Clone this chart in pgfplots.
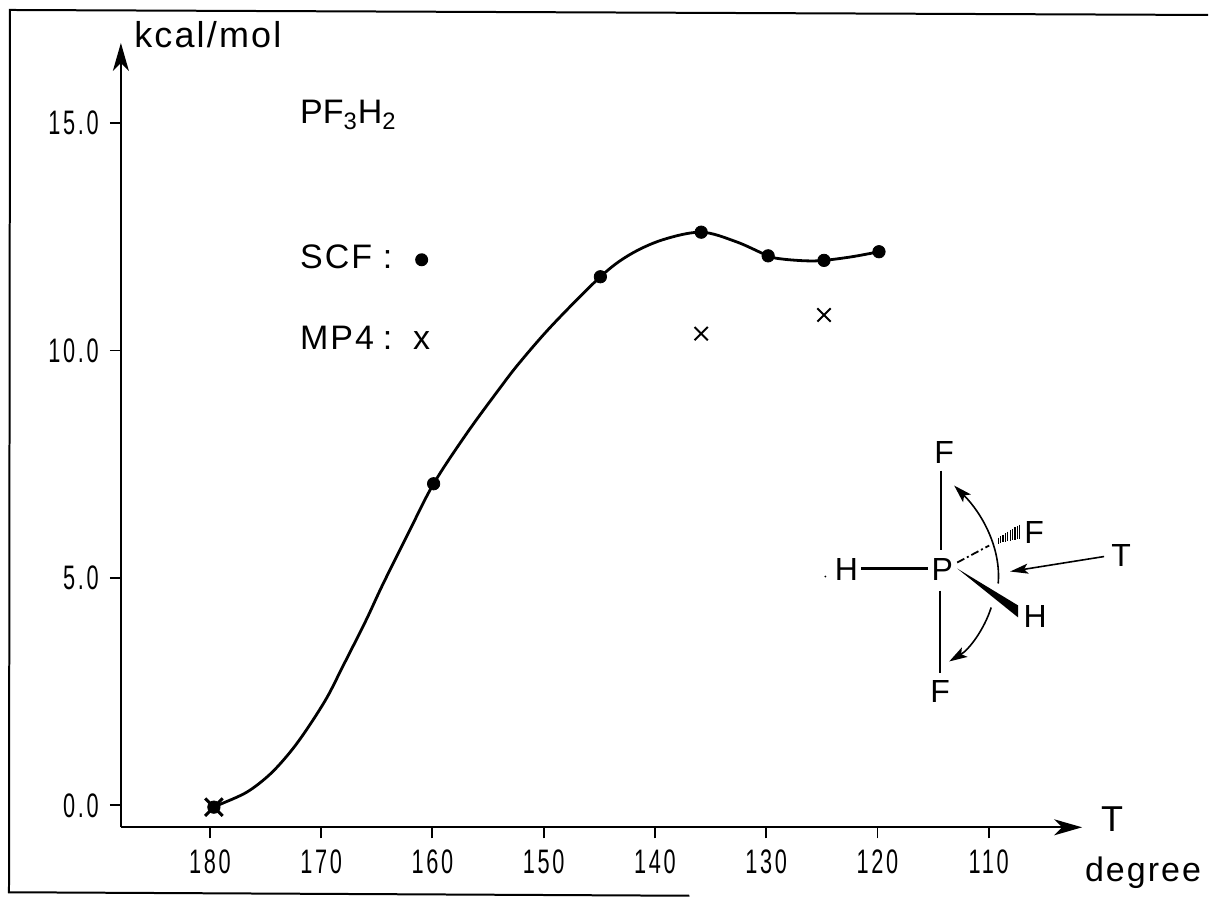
\documentclass[border=0pt]{standalone}
\usepackage{fontspec}
\setmainfont{Liberation Sans}
\newfontfamily\tickfont[FakeStretch=0.64,LetterSpace=8]{Liberation Sans}
\newfontfamily\lblfont[LetterSpace=6]{Liberation Sans}
\usepackage{pgfplots}
\pgfplotsset{compat=1.18}
\usetikzlibrary{arrows.meta}
\pgfplotstableread{
T E
179.64 -0.04
179.1 0.02
176.68 0.29
174.61 0.68
172.82 1.16
171.29 1.67
169.5 2.36
168.06 3.05
166.0 4.05
164.47 4.85
162.05 6.04
159.89 7.07
156.93 8.17
153.97 9.16
152.17 9.73
149.21 10.56
144.9 11.62
142.3 12.10
139.34 12.43
135.84 12.6
132.69 12.39
129.82 12.08
128.56 12.01
126.41 11.97
124.8 11.98
122.28 12.06
119.86 12.17
}\curvetable
\pgfplotstableread{
T E
179.64 -0.04
159.89 7.07
144.9 11.62
135.84 12.6
129.82 12.08
124.8 11.98
119.86 12.17
}\scftable
\pgfplotstableread{
T E
135.84 10.37
124.8 10.78
}\mptable
\pgfplotstableread{
T E
179.64 -0.04
}\mpzero
\begin{document}
\begin{tikzpicture}[x=1pt,y=1pt]
\path (0,0) rectangle (604.5,448.5);
\begin{axis}[
  at={(60.5pt,34.5pt)},
  anchor=south west,
  scale only axis, width=481pt, height=392.5pt,
  x dir=reverse,
  xmin=101.6, xmax=188, ymin=-0.483, ymax=16.76,
  axis lines=left,
  axis line style={line width=1pt},
  x axis line style={{Stealth[length=14pt,width=8pt,inset=4pt]}-},
  y axis line style={-{Stealth[length=14pt,width=8pt,inset=4pt]}},
  clip=false,
  xtick={180,170,160,150,140,130,120,110},
  xticklabels={180,170,160,150,140,130,120,110},
  ytick={0,5,10,15},
  yticklabels={0.0,5.0,10.0,15.0},
  tick style={black,line width=0.9pt},
  tick align=outside,
  major tick length=5.5pt,
  xticklabel style={font=\tickfont\fontsize{17}{17}\selectfont,yshift=-2pt},
  yticklabel style={font=\tickfont\fontsize{17}{17}\selectfont,xshift=-2pt},
]
\addplot[black,line width=1.4pt,smooth,tension=0.55,no marks] table[x=T,y=E] {\curvetable};
\addplot[only marks,mark=*,mark size=3.1pt,black] table[x=T,y=E] {\scftable};
\addplot[only marks,mark=x,mark size=4.7pt,black,mark options={line width=1pt}] table[x=T,y=E] {\mptable};
\addplot[only marks,mark=x,mark size=6.2pt,black,mark options={line width=1.5pt}] table[x=T,y=E] {\mpzero};
\end{axis}
\begin{scope}[x=0.5pt,y=-0.5pt,yshift=448.5pt]
% frame
\draw[line width=1pt] (1209,15) -- (10,10) -- (9,893) -- (690,896.5);
% text
\node[anchor=base west,inner sep=0,font=\lblfont\fontsize{18}{18}\selectfont] at (134,48) {kcal/mol};
\node[anchor=base west,inner sep=0,font=\fontsize{17}{17}\selectfont] at (300,124) {PF$_{\mathrm{3}}$H$_{\mathrm{2}}$};
\node[anchor=base west,inner sep=0,font=\lblfont\fontsize{17}{17}\selectfont] at (300,269) {SCF};
\node[anchor=base,inner sep=0,font=\fontsize{17}{17}\selectfont] at (388,269) {:};
\fill (422,260) circle[radius=6.5];
\node[anchor=base west,inner sep=0,font=\lblfont\fontsize{17}{17}\selectfont] at (300,350) {MP4};
\node[anchor=base,inner sep=0,font=\fontsize{17}{17}\selectfont] at (388,350) {:};
\node[anchor=base,inner sep=0,font=\fontsize{17}{17}\selectfont] at (422,350) {x};
\node[font=\fontsize{18}{18}\selectfont,inner sep=0] at (1113,820) {T};
\node[anchor=base,inner sep=0,font=\lblfont\fontsize{17}{17}\selectfont] at (1144,882) {degree};
% molecule
\begin{scope}[font=\fontsize{16}{16}\selectfont]
\node[inner sep=0] at (945,453) {F};
\node[inner sep=0] at (943,570) {P};
\node[inner sep=0] at (847,570) {H};
\node[inner sep=0] at (941,692) {F};
\node[inner sep=0] at (1035,533) {F};
\node[inner sep=0] at (1036,617) {H};
\node[inner sep=0] at (1122,556) {T};
\end{scope}
\fill (826,577) circle[radius=1];
\draw[line width=0.9pt] (942,471) -- (942,550);
\draw[line width=0.9pt] (941,591) -- (941,674);
\draw[line width=1.2pt] (862,569) -- (929,569);
\draw[line width=0.9pt,dash pattern=on 4pt off 1.5pt on 1pt off 1.5pt] (958,563) -- (990,546);
\fill (958,569) -- (1019,606) -- (1019,618) -- cycle;
\foreach \t in {0,1,...,9}{
  \pgfmathsetmacro\xx{999+2.4*\t}
  \pgfmathsetmacro\hh{3+0.45*\t}
  \pgfmathsetmacro\yy{541-1.0*\t}
  \draw[line width=0.6pt] (\xx,\yy-\hh) -- (\xx,\yy+\hh);
}
\draw[line width=0.8pt,-{Stealth[length=9pt,width=5pt,inset=2pt]}] (1105,557) -- (1011,572);
\draw[line width=0.8pt,-{Stealth[length=9pt,width=5.5pt,inset=2pt]}] (999,584) .. controls (1002,550) and (984,515) .. (955,486);
\draw[line width=0.8pt,-{Stealth[length=9pt,width=5.5pt,inset=2pt]}] (992,608) .. controls (985,630) and (970,650) .. (950,662);
\end{scope}
\end{tikzpicture}
\end{document}
